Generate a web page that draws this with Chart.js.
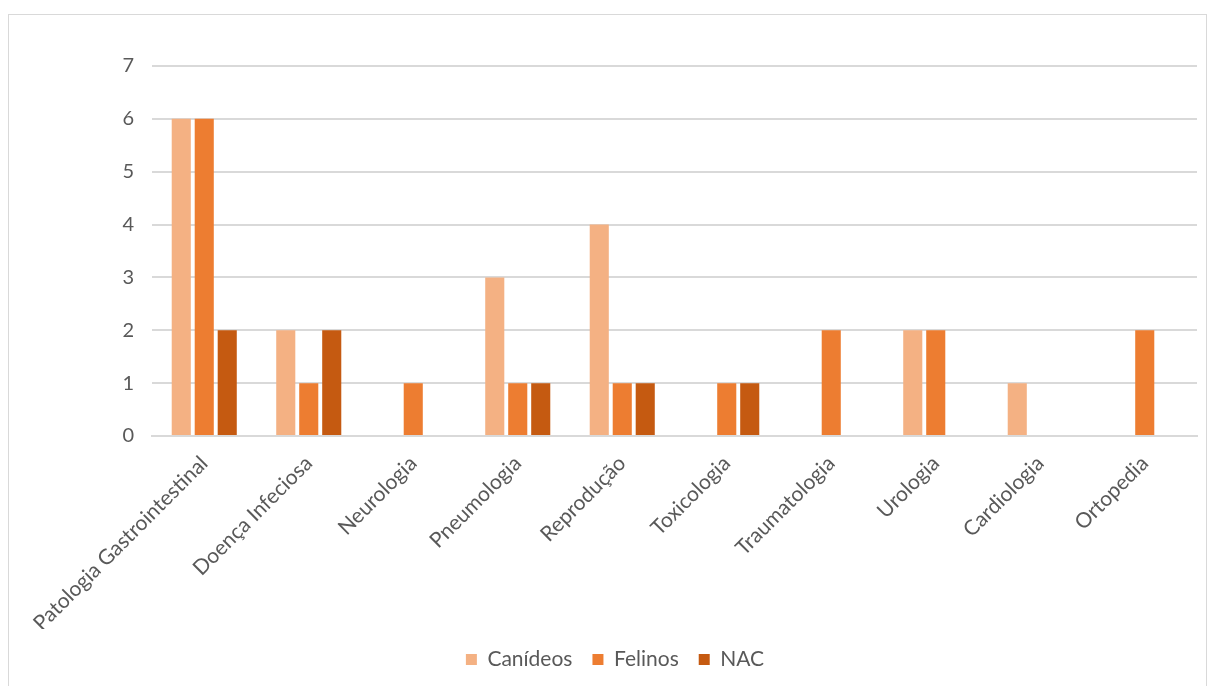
<!DOCTYPE html>
<html>
<head>
<meta charset="utf-8">
<script src="https://cdn.jsdelivr.net/npm/chart.js@4/dist/chart.umd.min.js"></script>
<style>
  body { margin: 0; background: #fff; overflow: hidden; }
  #box {
    position: absolute; left: 8px; top: 14px; width: 1199px; height: 690px;
    border: 1px solid #d9d9d9; border-bottom: none; box-sizing: border-box;
  }
  #wrap { position: absolute; left: 0; top: 0; width: 1197px; height: 673px; }
</style>
</head>
<body>
<div id="box"><div id="wrap"><canvas id="myChart"></canvas></div></div>
<script>
const categories = ["Patologia Gastrointestinal", "Doença Infeciosa", "Neurologia", "Pneumologia",
  "Reprodução", "Toxicologia", "Traumatologia", "Urologia", "Cardiologia", "Ortopedia"];
const canideos = [6, 2, 0, 3, 4, 0, 0, 2, 1, 0];
const felinos = [6, 1, 1, 1, 1, 1, 2, 2, 0, 2];
const nac = [2, 2, 0, 1, 1, 1, 0, 0, 0, 0];
const yTicks = [0, 1, 2, 3, 4, 5, 6, 7];

const textColor = "#595959";
const family = "Lato, 'Open Sans', sans-serif";

// desloca a legenda um pouco para a direita, como no original
const legendShift = {
  id: "legendShift",
  afterLayout(chart) {
    chart.legend.left += 12;
    chart.legend.right += 12;
  }
};

const ctx = document.getElementById("myChart");
new Chart(ctx, {
  type: "bar",
  data: {
    labels: categories,
    datasets: [
      { label: "Canídeos", data: canideos, backgroundColor: "#F4B183" },
      { label: "Felinos", data: felinos, backgroundColor: "#ED7D31" },
      { label: "NAC", data: nac, backgroundColor: "#C55A11" }
    ]
  },
  plugins: [legendShift],
  options: {
    responsive: true,
    maintainAspectRatio: false,
    animation: false,
    datasets: { bar: { categoryPercentage: 0.66, barPercentage: 0.83 } },
    layout: { padding: { left: 0, right: 9, top: 51, bottom: 8 } },
    plugins: {
      legend: {
        position: "bottom",
        labels: { color: textColor, font: { family: family, size: 21 }, boxWidth: 11, boxHeight: 11, padding: 20 }
      },
      tooltip: { enabled: false }
    },
    scales: {
      x: {
        grid: { display: false },
        border: { color: "#d9d9d9", width: 2 },
        afterFit: axis => { axis.height = 193; },
        ticks: { color: textColor, font: { family: family, size: 21 }, maxRotation: 45, minRotation: 45, autoSkip: false, padding: 7 }
      },
      y: {
        min: 0,
        max: 7,
        afterFit: axis => { axis.width = 143; },
        afterBuildTicks: axis => { axis.ticks = yTicks.map(v => ({ value: v })); },
        grid: { color: "#d9d9d9", lineWidth: 2, drawTicks: false },
        border: { display: false },
        ticks: { color: textColor, font: { family: family, size: 20 }, padding: 18 }
      }
    }
  }
});
</script>
</body>
</html>
